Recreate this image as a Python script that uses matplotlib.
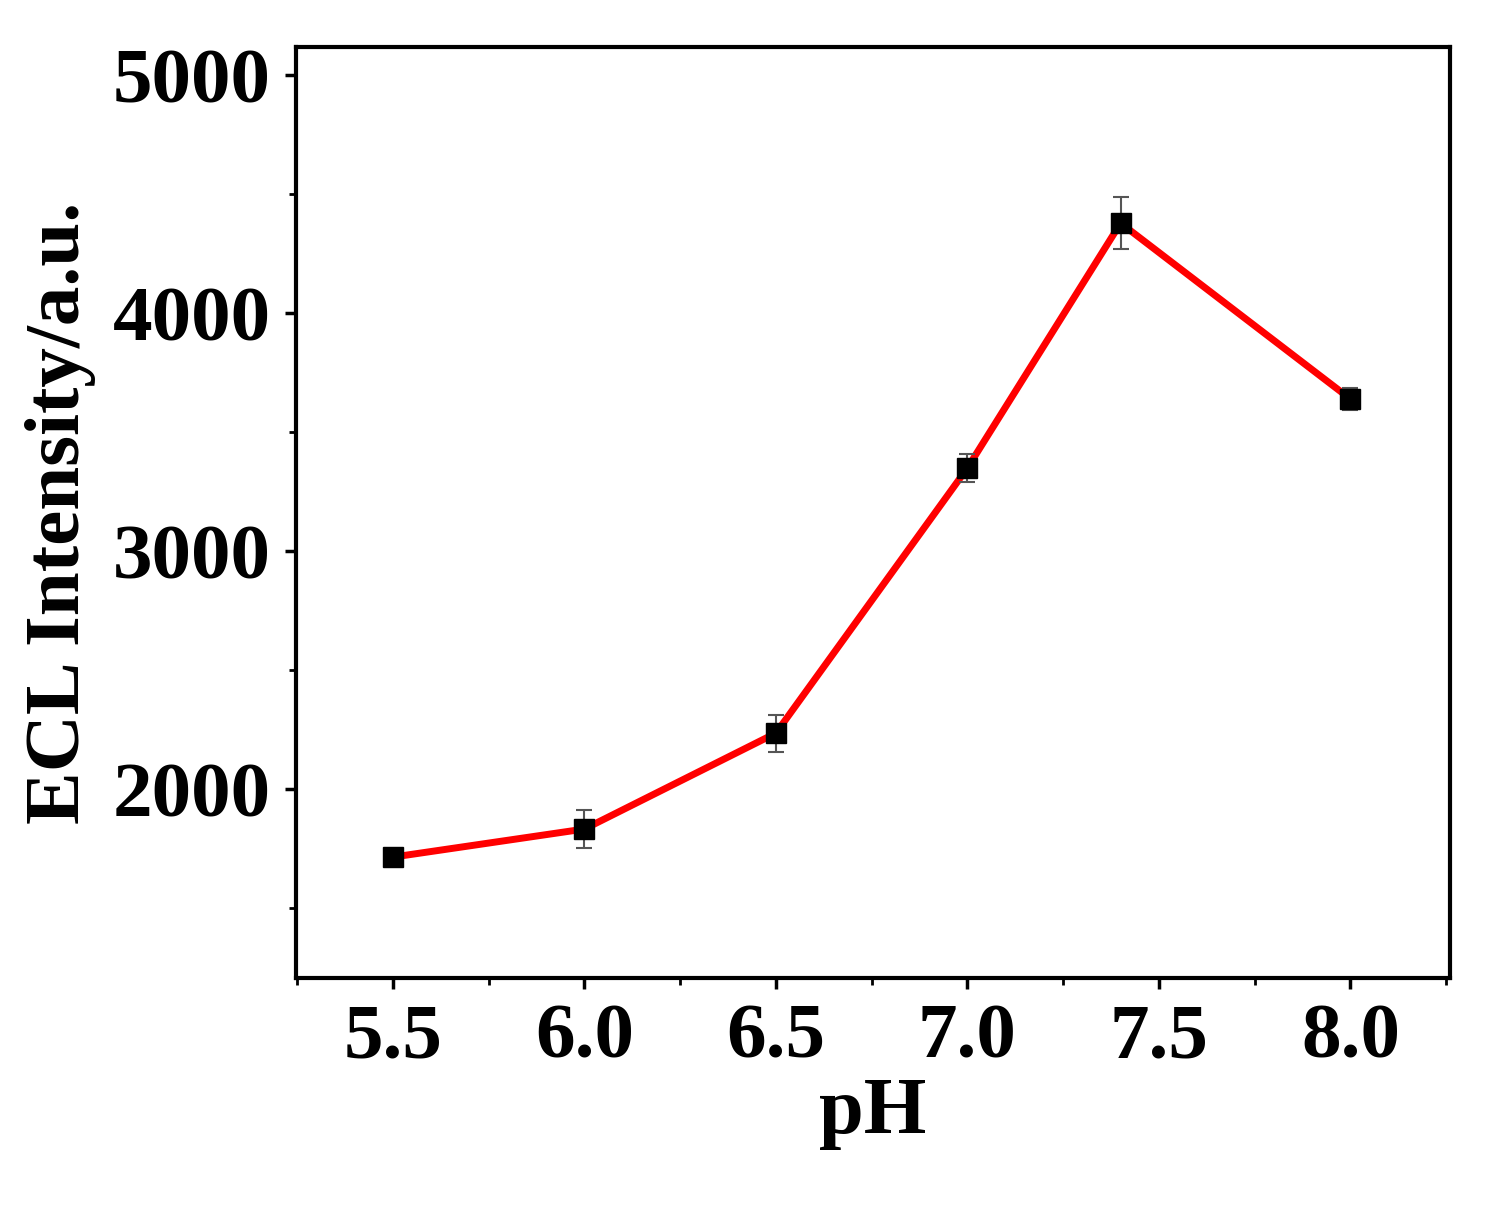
import matplotlib.pyplot as plt
from matplotlib.ticker import MultipleLocator

ph = [5.5, 6.0, 6.5, 7.0, 7.4, 8.0]
intensity = [1714, 1832, 2235, 3349, 4378, 3639]
errors = [30, 80, 78, 60, 110, 48]

plt.rcParams['font.family'] = ['Liberation Serif', 'DejaVu Serif']
plt.rcParams['font.weight'] = 'bold'

fig = plt.figure(figsize=(15.07, 12.05), dpi=100)
ax = fig.add_axes([296 / 1507, 1 - 978 / 1205, 1154 / 1507, 931 / 1205])

ax.plot(ph, intensity, color='red', lw=5, zorder=2)
ax.errorbar(ph, intensity, yerr=errors, fmt='s', color='black', ms=15,
            ecolor='#555555', elinewidth=1.5, capsize=6, capthick=1.5, zorder=3)

ax.set_xlim(5.247, 8.26)
ax.set_ylim(1206, 5118)
ax.xaxis.set_major_locator(MultipleLocator(0.5))
ax.xaxis.set_minor_locator(MultipleLocator(0.25))
ax.yaxis.set_major_locator(MultipleLocator(1000))
ax.yaxis.set_minor_locator(MultipleLocator(500))
ax.tick_params(which='major', direction='out', length=8, width=2.5, labelsize=57, pad=10)
ax.tick_params(which='minor', direction='out', length=5, width=2)
for s in ax.spines.values():
    s.set_linewidth(3)

ax.set_xlabel('pH', fontsize=58, fontweight='bold', labelpad=2)
ax.set_ylabel('ECL Intensity/a.u.', fontsize=57, fontweight='bold', labelpad=12)

fig.savefig('out.png', dpi=100)
